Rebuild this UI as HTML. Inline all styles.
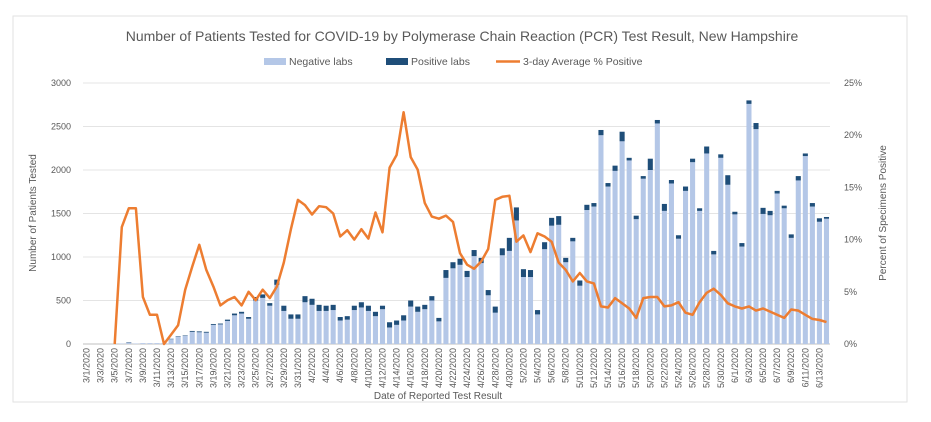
<!DOCTYPE html>
<html><head><meta charset="utf-8">
<style>
html,body{margin:0;padding:0;background:#fff;}
svg{display:block;font-family:"Liberation Sans",sans-serif;}
</style></head>
<body>
<svg id="chart" width="931" height="422" viewBox="0 0 931 422" xmlns="http://www.w3.org/2000/svg">
<rect x="13" y="16" width="894" height="386" fill="#fff" stroke="#e2e2e2"/>
<text x="462" y="41" text-anchor="middle" font-size="14" fill="#595959">Number of Patients Tested for COVID-19 by Polymerase Chain Reaction (PCR) Test Result, New Hampshire</text>
<g font-size="10.5" fill="#595959">
<rect x="264" y="58" width="22" height="7" fill="#b4c7e7"/>
<text x="289" y="65">Negative labs</text>
<rect x="386" y="58" width="22" height="7" fill="#1f4e79"/>
<text x="411" y="65">Positive labs</text>
<line x1="496" y1="61.5" x2="520" y2="61.5" stroke="#ed7d31" stroke-width="2.5"/>
<text x="523" y="65">3-day Average % Positive</text>
</g>
<g id="grid"></g>
<g id="bars"></g>
<g id="line"></g>
<g id="axes"></g>
<text transform="translate(36,213) rotate(-90)" text-anchor="middle" font-size="10" fill="#595959">Number of Patients Tested</text>
<text transform="translate(886,213) rotate(-90)" text-anchor="middle" font-size="10" fill="#595959">Percent of Specimens Positive</text>
<text x="438" y="399" text-anchor="middle" font-size="10" fill="#595959">Date of Reported Test Result</text>
</svg>
<script>
const negTotals = [0,0,0,0,0,5,20,5,10,10,10,10,60,90,100,150,145,140,230,235,280,350,370,310,540,570,470,740,440,340,340,550,520,450,440,450,310,320,440,480,440,370,440,250,270,330,500,430,450,550,300,850,940,980,840,1080,990,620,430,1100,1220,1570,860,850,390,1170,1450,1470,990,1220,730,1600,1620,2460,1850,2050,2440,2140,1475,1930,2130,2575,1610,1885,1250,1810,2130,1560,2270,1070,2180,1940,1520,1160,2800,2540,1565,1530,1760,1590,1260,1930,2190,1620,1445,1460];
const positives = [0,0,0,0,0,0,5,0,0,0,0,0,5,5,5,10,10,10,10,10,15,20,20,20,40,40,30,60,60,50,50,70,70,70,60,60,40,40,50,60,60,50,40,60,50,60,70,60,50,50,40,90,70,70,70,70,60,60,70,80,150,150,90,80,50,80,90,100,50,40,60,60,40,60,40,60,110,30,40,30,130,40,80,40,40,50,40,30,80,40,40,110,30,40,40,70,70,50,30,30,40,50,30,40,40,20,20];
const pctPositive = [null,null,null,null,0,11.2,13,13,4.5,2.8,2.8,0,0.9,1.8,5.2,7.4,9.5,7.1,5.5,3.7,4.2,4.5,3.7,5.0,4.2,5.2,4.4,5.5,7.8,11,13.8,13.3,12.4,13.2,13.1,12.5,10.3,10.9,10.0,11.0,10.1,12.6,10.7,16.9,18.1,22.2,17.9,16.7,13.5,12.2,12.0,12.3,11.7,8.7,7.6,7.2,7.9,9.1,13.8,14.1,14.2,9.8,10.4,8.8,10.6,10.3,9.8,7.8,7.1,6.0,6.8,6.0,5.8,3.6,3.5,4.4,3.9,3.4,2.5,4.4,4.5,4.5,3.6,3.7,4.0,3.0,2.8,4.0,4.9,5.3,4.7,3.9,3.6,3.4,3.6,3.2,3.4,3.1,2.8,2.5,3.3,3.2,2.8,2.4,2.3,2.1];
const yTicks = [0,500,1000,1500,2000,2500,3000];
const y2Ticks = [0,5,10,15,20,25];

const NS="http://www.w3.org/2000/svg";
const L=83,R=830,T=83,B=344;
const n=negTotals.length;
const step=(R-L)/n;
const xs=i=>L+step*(i+0.5);
const y=v=>B-(v/3000)*(B-T);
const y2=v=>B-(v/25)*(B-T);
function mk(tag,attrs,parent){const e=document.createElementNS(NS,tag);for(const k in attrs)e.setAttribute(k,attrs[k]);parent.appendChild(e);return e;}
const grid=document.getElementById('grid'),bars=document.getElementById('bars'),line=document.getElementById('line'),axes=document.getElementById('axes');
yTicks.forEach(t=>{
  const g=mk('line',{x1:L,x2:R,y1:y(t),y2:y(t),stroke:t===0?'#bfbfbf':'#e4e4e4','stroke-width':1},grid);
  
  
  const tx=mk('text',{x:L-12,y:y(t)+3,'text-anchor':'end','font-size':9,fill:'#595959'},axes);
  
  
  tx.textContent=t;
});
y2Ticks.forEach(t=>{
  const tx=mk('text',{x:R+14,y:y2(t)+3,'text-anchor':'start','font-size':9,fill:'#595959'},axes);
  
  
  tx.textContent=t+'%';
});
const bw=step*0.72;
const start=new Date(2020,2,1);
for(let i=0;i<n;i++){
  const tot=negTotals[i],pos=Math.min(positives[i],tot);
  const neg=tot-pos;
  const x=xs(i)-bw/2;
  if(tot>0){
    const nb=mk('rect',{x:x,y:y(neg),width:bw,height:B-y(neg),fill:'#b4c7e7'},bars);
    
    
    if(pos>0){
      const pb=mk('rect',{x:x,y:y(tot),width:bw,height:y(neg)-y(tot),fill:'#1f4e79'},bars);
      
      
    }
  }
  if(i%2===0){
    const d=new Date(start.getTime()+i*86400000);
    const lab=(d.getMonth()+1)+'/'+d.getDate()+'/2020';
    const tx=mk('text',{transform:`translate(${xs(i)+3},${B+4}) rotate(-90)`,'text-anchor':'end','font-size':9,fill:'#595959'},axes);
    
    
    tx.textContent=lab;
  }
}
let dstr='';
pctPositive.forEach((v,i)=>{if(v===null)return;dstr+=(dstr?'L':'M')+xs(i).toFixed(1)+','+y2(v).toFixed(1);});
const p=mk('path',{d:dstr,fill:'none',stroke:'#ed7d31','stroke-width':2.5,'stroke-linejoin':'round'},line);


</script>
</body></html>
